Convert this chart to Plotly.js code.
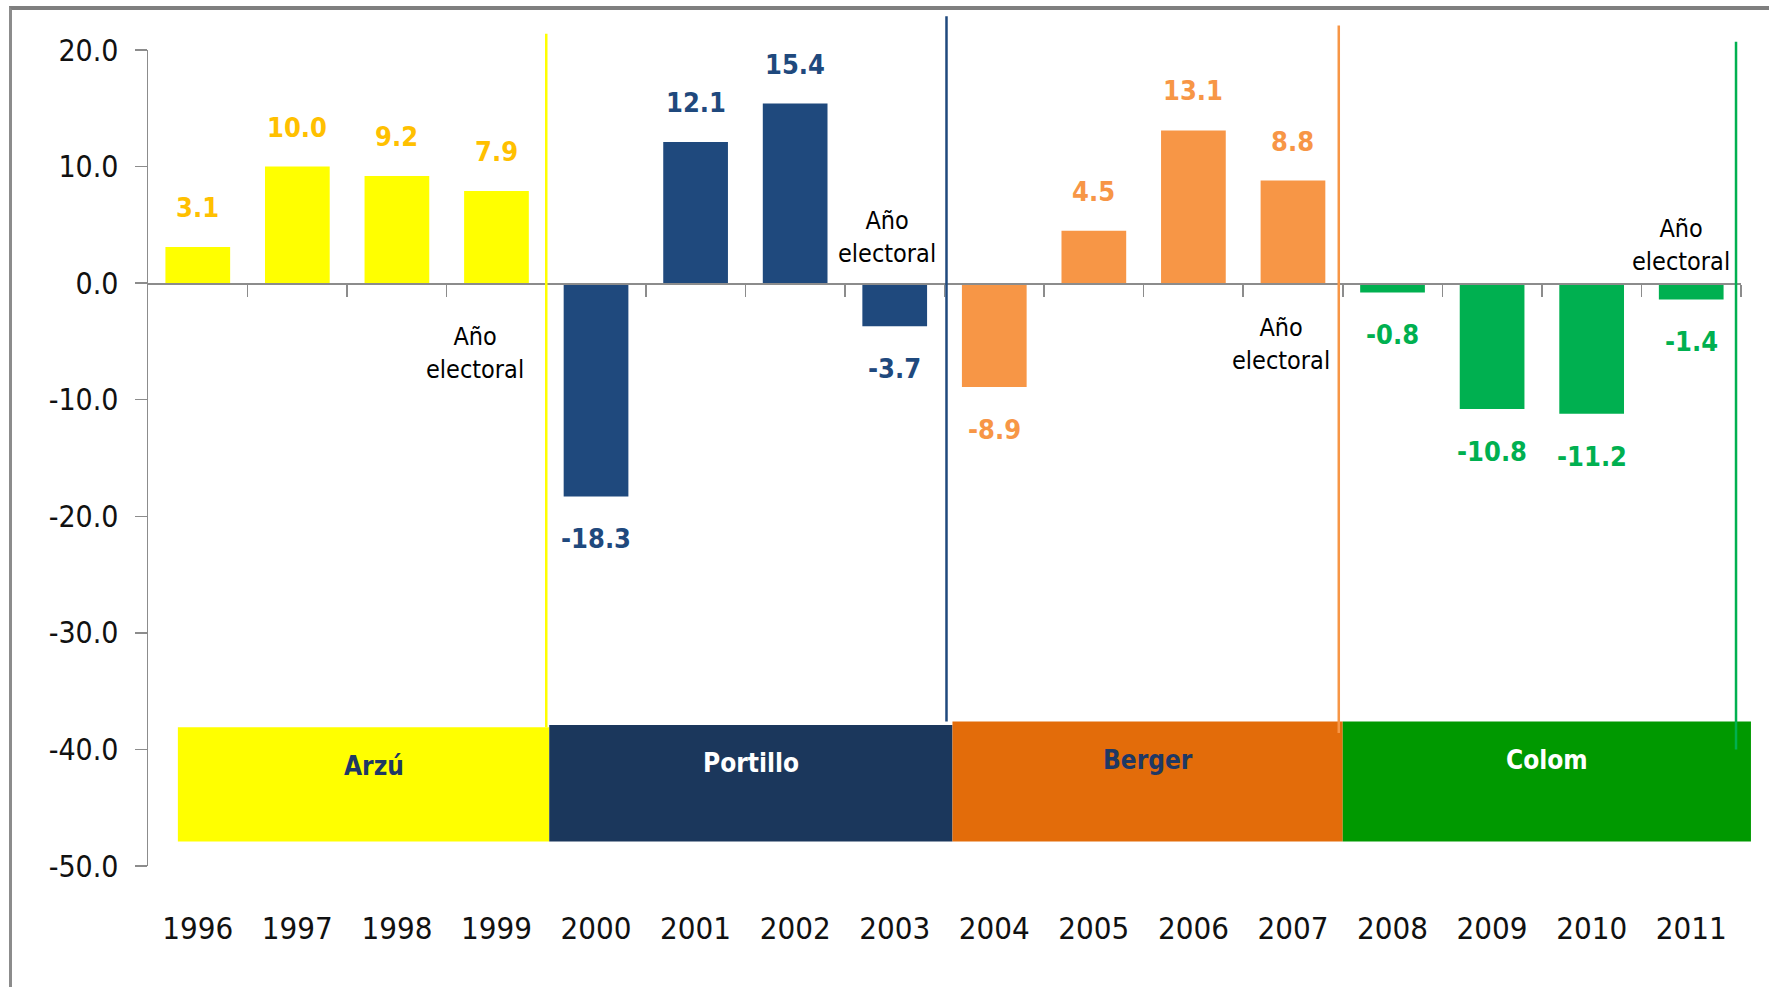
<!DOCTYPE html>
<html>
<head>
<meta charset="utf-8">
<script src="https://cdn.plot.ly/plotly-3.0.1.min.js"></script>
<style>
  html, body { margin: 0; padding: 0; background: #fff; overflow: hidden; }
  #frame { position: absolute; left: 9px; top: 6px; width: 1800px; height: 1000px;
           border-top: 4px solid #7f7f7f; border-left: 3px solid #8c8c8c; }
  #chart { position: absolute; left: 0; top: 0; width: 1769px; height: 987px; }
</style>
</head>
<body>
<div id="frame"></div>
<div id="chart"></div>
<script>
// ---- data ----
const years = ['1996','1997','1998','1999','2000','2001','2002','2003',
               '2004','2005','2006','2007','2008','2009','2010','2011'];
const values = [3.1, 10.0, 9.2, 7.9, -18.3, 12.1, 15.4, -3.7,
                -8.9, 4.5, 13.1, 8.8, -0.8, -10.8, -11.2, -1.4];
const presidents = ['Arzú', 'Portillo', 'Berger', 'Colom'];
const presidentOfYear = [0,0,0,0, 1,1,1,1, 2,2,2,2, 3,3,3,3];
const electoralYears = ['1999', '2003', '2007', '2011'];
const yTickVals = [20, 10, 0, -10, -20, -30, -40, -50];

// ---- styles ----
const FONT = '"DejaVu Sans Condensed", "Liberation Sans Narrow", "Liberation Sans", sans-serif';
const barColors   = ['#FFFF00', '#1F497D', '#F79646', '#00B050'];
const labelColors = ['#FFC000', '#1F497D', '#F79646', '#00B050'];
const boxColors   = ['#FFFF00', '#1B375C', '#E36C0A', '#009900'];
const boxText     = ['#1F3864', '#FFFFFF', '#1F3864', '#FFFFFF'];
const boxTextShift = [10, 0, 0, 0];
const lineColors  = ['#FFFF00', '#1F497D', '#F79646', '#00B050'];
const boxEdges    = [-0.2, 3.53, 7.58, 11.5, 15.6];
const boxTops     = [-38.1, -37.9, -37.6, -37.6];
const boxBottom   = -47.9;
const sepX        = [3.5, 7.52, 11.46, 15.45];
const sepTop      = [21.4, 22.9, 22.1, 20.7];
const sepBottom   = [-38.1, -37.6, -38.6, -40.0];
const electoralPos = [{dx: -21, y: -6.0}, {dx: -8, y: 4.0}, {dx: -12, y: -5.2}, {dx: -10, y: 3.3}];

const yMin = -50, yMax = 20, n = years.length;
const px = c => (c + 0.5) / n;
const py = v => (v - yMin) / (yMax - yMin);

const bars = {
  type: 'bar', x: years, y: values,
  marker: { color: values.map((v, i) => barColors[presidentOfYear[i]]) },
  hoverinfo: 'x+y', showlegend: false
};
const dummy = { type: 'scatter', x: [], y: [], xaxis: 'x2', yaxis: 'y', showlegend: false, hoverinfo: 'skip' };

const annotations = [];
values.forEach((v, i) => {
  annotations.push({
    x: px(i), y: py(v), xref: 'paper', yref: 'paper', showarrow: false,
    text: v.toFixed(1), xanchor: 'center',
    yanchor: v >= 0 ? 'bottom' : 'top', yshift: v >= 0 ? 22 : -25,
    font: { family: FONT, size: 27, color: labelColors[presidentOfYear[i]], weight: 'bold' }
  });
});
electoralYears.forEach((yr, k) => {
  const i = years.indexOf(yr);
  annotations.push({
    x: px(i), y: py(electoralPos[k].y), xref: 'paper', yref: 'paper', showarrow: false,
    xanchor: 'center', yanchor: 'middle',
    xshift: electoralPos[k].dx, text: 'Año<br>electoral',
    font: { family: FONT, size: 25, color: '#000000' }
  });
});
const shapes = [];
presidents.forEach((p, k) => {
  shapes.push({
    type: 'rect', xref: 'paper', yref: 'paper', layer: 'above',
    x0: px(boxEdges[k]), x1: px(boxEdges[k + 1]), y0: py(boxBottom), y1: py(boxTops[k]),
    fillcolor: boxColors[k], line: { width: 0 }
  });
  annotations.push({
    x: px((boxEdges[k] + boxEdges[k + 1]) / 2), y: py(boxTops[k] - 3.3),
    xref: 'paper', yref: 'paper', showarrow: false, text: p,
    xanchor: 'center', yanchor: 'middle', xshift: boxTextShift[k],
    font: { family: FONT, size: 26, color: boxText[k], weight: 'bold' }
  });
});
sepX.forEach((x, k) => {
  shapes.push({
    type: 'line', xref: 'paper', yref: 'paper', layer: 'above',
    x0: px(x), x1: px(x), y0: py(sepBottom[k]), y1: py(sepTop[k]),
    line: { color: lineColors[k], width: 2.5 }
  });
});

const boundaryTicks = [];
for (let c = 0.5; c <= n - 0.5; c += 1) boundaryTicks.push(c);

const layout = {
  width: 1769, height: 987,
  margin: { l: 148, r: 28, t: 50, b: 121 },
  paper_bgcolor: 'rgba(0,0,0,0)', plot_bgcolor: 'rgba(0,0,0,0)',
  bargap: 0.35,
  font: { family: FONT, color: '#000' },
  xaxis: {
    type: 'category', range: [-0.5, n - 0.5], showline: false, showgrid: false,
    zeroline: false, ticks: '', ticklabelstandoff: 41,
    tickfont: { family: FONT, size: 31, color: '#111' }
  },
  xaxis2: {
    overlaying: 'x', anchor: 'free', position: py(0), range: [-0.5, n - 0.5],
    showline: true, linecolor: '#8c8c8c', linewidth: 1.5,
    ticks: 'outside', ticklen: 12, tickwidth: 1.5, tickcolor: '#8c8c8c',
    tickvals: boundaryTicks, showticklabels: false, showgrid: false, zeroline: false
  },
  yaxis: {
    range: [yMin, yMax], tickvals: yTickVals, ticktext: yTickVals.map(v => v.toFixed(1)),
    showline: true, linecolor: '#8c8c8c', linewidth: 1.5,
    ticks: 'outside', ticklen: 12, tickwidth: 1.5, tickcolor: '#8c8c8c',
    showgrid: false, zeroline: false, ticklabelstandoff: 10,
    tickfont: { family: FONT, size: 30, color: '#111' }
  },
  annotations: annotations,
  shapes: shapes
};

Plotly.newPlot('chart', [bars, dummy], layout, { staticPlot: true });
</script>
</body>
</html>
